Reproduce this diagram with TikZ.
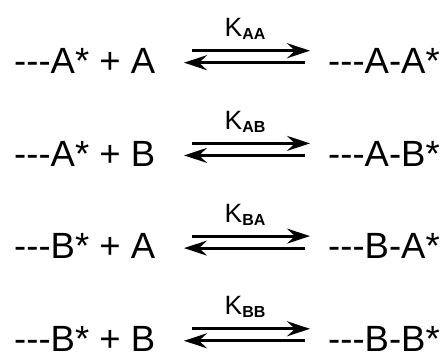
\documentclass[tikz,border=0pt]{standalone}
\usepackage{fontspec}
\setmainfont[Ligatures=NoCommon]{Liberation Sans}
\usetikzlibrary{arrows.meta}
\newcommand{\dsh}{{-}{-}{-}}
\begin{document}
\begin{tikzpicture}[x=1pt,y=-1pt,
  chem/.style={anchor=base west,inner sep=0pt,font=\fontsize{36.5}{40}\selectfont},
  klabel/.style={anchor=base,inner sep=0pt,font=\fontsize{26.5}{28}\selectfont},
  rxn/.style={line width=2.8pt,-{Stealth[length=23pt,width=15pt,inset=8pt]}}]
\useasboundingbox (0,0) rectangle (445,353);
\foreach \i/\l/\r/\k in {0/{\dsh A* + A}/{\dsh A-A*}/{AA},1/{\dsh A* + B}/{\dsh A-B*}/{AB},2/{\dsh B* + A}/{\dsh B-A*}/{BA},3/{\dsh B* + B}/{\dsh B-B*}/{BB}}{
  \pgfmathsetmacro{\yb}{73.3+92.7*\i}
  \node[chem] (L\i) at (14,\yb) {\l};
  \node[chem] (R\i) at (328,\yb) {\r};
  \coordinate (ua\i) at (192,\yb-22.6);
  \coordinate (ub\i) at (310,\yb-22.6);
  \coordinate (la\i) at (305,\yb-10.6);
  \coordinate (lb\i) at (184,\yb-10.6);
  \draw[rxn] (ua\i) -- (ub\i);
  \draw[rxn] (la\i) -- (lb\i);
  \node[klabel] (K\i) at (245,\yb-36.6) {K\raisebox{-3pt}{\fontsize{16}{17}\selectfont\bfseries \k}};
}
\end{tikzpicture}
\end{document}
